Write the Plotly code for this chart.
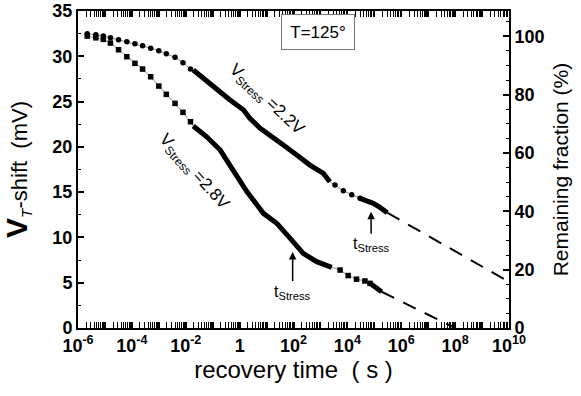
import math
import plotly.graph_objects as go

# ---------------- data ----------------
# recovery time (s) of the sparse early points (same for both curves)
t_early = [2.2e-6, 4.6e-6, 8.7e-6, 1.6e-5, 3.2e-5, 6.5e-5, 1.3e-4, 2.5e-4,
           5.0e-4, 1.0e-3, 1.9e-3, 4.0e-3, 7.9e-3, 1.5e-2]

# V_stress = 2.2 V
v22_early = [32.48, 32.38, 32.23, 32.04, 31.82, 31.60, 31.38, 31.16,
             30.90, 30.61, 30.28, 29.88, 29.29, 28.59]
t22_dense = [0.019, 0.045, 0.14, 0.44, 1.4, 2.4, 5.8, 13.5, 42, 132, 407, 1290, 2240]
v22_dense = [28.48, 27.56, 26.27, 25.17, 24.06, 23.15, 22.04, 21.30, 20.20,
             19.09, 17.99, 17.07, 16.15]
t22_late = [3470, 7080, 14500, 29500]
v22_late = [15.78, 15.15, 14.72, 14.32]
t22_dense2 = [29500, 52500, 91000, 162000, 302000]
v22_dense2 = [14.32, 14.05, 13.76, 13.32, 12.73]
t22_extra = [302000, 1e10]
v22_extra = [12.73, 5.1]

# V_stress = 2.8 V
v28_early = [32.23, 32.04, 31.87, 31.46, 30.72, 29.95, 29.22, 28.59,
             27.74, 26.71, 25.80, 24.80, 23.81, 22.77]
t28_dense = [0.019, 0.060, 0.19, 0.58, 1.8, 7.6, 24, 74, 229, 724, 2630]
v28_dense = [22.30, 21.11, 19.65, 17.44, 15.12, 12.66, 11.56, 9.93, 8.24, 7.32, 6.70]
t28_late = [5370, 10700, 21900, 44700, 69000]
v28_late = [6.40, 5.79, 5.39, 5.19, 4.93]
t28_dense2 = [69000, 112000, 186000]
v28_dense2 = [4.93, 4.50, 4.00]
t28_extra = [186000, 1e8]
v28_extra = [4.00, 0.0]

# stress times marked with arrows (s) and the curve value there (mV)
t_stress = [93, 76000]
v_stress_tip = [8.39, 12.84]

# axis ticks
x_major = [10.0 ** n for n in range(-6, 11)]
x_labels = ["10<sup>-6</sup>", "", "10<sup>-4</sup>", "", "10<sup>-2</sup>", "", "1", "",
            "10<sup>2</sup>", "", "10<sup>4</sup>", "", "10<sup>6</sup>", "",
            "10<sup>8</sup>", "", "10<sup>10</sup>"]
x_minor = [k * 10.0 ** n for n in range(-6, 10) for k in range(2, 10)]

FONT = "Liberation Sans, Arial, sans-serif"

fig = go.Figure()

def add_curve(t_e, v_e, t_d, v_d, t_l, v_l, t_d2, v_d2, t_x, v_x, symbol):
    # thin grey connecting line through all measured points
    fig.add_trace(go.Scatter(x=t_e + t_d + t_l + t_d2, y=v_e + v_d + v_l + v_d2,
                             mode="lines", line=dict(color="#8a8a8a", width=1),
                             showlegend=False, hoverinfo="skip"))
    # sparse markers
    fig.add_trace(go.Scatter(x=t_e + t_l, y=v_e + v_l, mode="markers",
                             marker=dict(symbol=symbol, size=5.5, color="black"),
                             showlegend=False))
    # dense measurement regions
    for tt, vv in ((t_d, v_d), (t_d2, v_d2)):
        fig.add_trace(go.Scatter(x=tt, y=vv, mode="lines",
                                 line=dict(color="black", width=5),
                                 showlegend=False))
    # extrapolation
    fig.add_trace(go.Scatter(x=t_x, y=v_x, mode="lines",
                             line=dict(color="black", width=2, dash="14px,10px"),
                             showlegend=False))

add_curve(t_early, v22_early, t22_dense, v22_dense, t22_late, v22_late,
          t22_dense2, v22_dense2, t22_extra, v22_extra, "circle")
add_curve(t_early, v28_early, t28_dense, v28_dense, t28_late, v28_late,
          t28_dense2, v28_dense2, t28_extra, v28_extra, "square")

# dummy trace for the right axis
fig.add_trace(go.Scatter(x=[1e-6], y=[0], yaxis="y2", mode="markers",
                         marker=dict(opacity=0), showlegend=False, hoverinfo="skip"))

annotations = [
    dict(x=0.557, y=0.934, xref="paper", yref="paper", text="T=125°",
         xanchor="center", yanchor="middle",
         showarrow=False, font=dict(family=FONT, size=17, color="black"),
         bordercolor="#777", borderwidth=1, width=70, height=32, bgcolor="white"),
    dict(x=0.98, y=25.2, xref="x", yref="y", text="V<sub>Stress</sub> =2.2V",
         xanchor="center", yanchor="middle",
         showarrow=False, textangle=43,
         font=dict(family=FONT, size=17, color="black")),
    dict(x=-1.73, y=17.2, xref="x", yref="y", text="V<sub>Stress</sub> =2.8V",
         xanchor="center", yanchor="middle",
         showarrow=False, textangle=48,
         font=dict(family=FONT, size=17, color="black")),
]
for ts, vt, ay in zip(t_stress, v_stress_tip, [40, 33]):
    annotations.append(dict(x=math.log10(ts), y=vt, xref="x", yref="y",
                            text="t<sub>Stress</sub>", showarrow=True,
                            arrowhead=2, arrowsize=1, arrowwidth=1.5,
                            arrowcolor="black", ax=0, ay=ay,
                            font=dict(family=FONT, size=16, color="black")))

fig.update_layout(
    width=581, height=396,
    margin=dict(l=78, r=72, t=11, b=68),
    paper_bgcolor="white", plot_bgcolor="white",
    font=dict(family=FONT, color="black"),
    annotations=annotations,
    xaxis=dict(type="log", range=[-6, 10], tickmode="array", tickvals=x_major,
               ticktext=x_labels, ticks="inside", ticklen=6, tickwidth=1.5,
               tickcolor="black", showline=True, linewidth=2, linecolor="black",
               mirror="allticks", showgrid=False, zeroline=False, automargin=False,
               tickfont=dict(family=FONT, size=18, weight="bold"),
               minor=dict(tickmode="array", tickvals=x_minor, ticks="inside",
                          ticklen=3, tickwidth=1, tickcolor="black"),
               title=dict(text="recovery time  ( s )",
                          font=dict(family=FONT, size=24), standoff=4)),
    yaxis=dict(range=[0, 35], dtick=5, ticks="inside", ticklen=6, tickwidth=1.5,
               tickcolor="black", showline=True, linewidth=2, linecolor="black",
               mirror=True, showgrid=False, zeroline=False, automargin=False,
               tickfont=dict(family=FONT, size=18, weight="bold"),
               minor=dict(dtick=2.5, ticks="inside", ticklen=3, tickwidth=1,
                          tickcolor="black"),
               title=dict(text="<span style='font-size:30px'><b>V</b></span><sub><i>T</i></sub>-shift  (mV)",
                          font=dict(family=FONT, size=22), standoff=20)),
    yaxis2=dict(overlaying="y", side="right", range=[0, 108.7], dtick=20,
                ticks="inside", ticklen=6, tickwidth=1.5, tickcolor="black",
                showline=True, linewidth=2, linecolor="black", showgrid=False,
                zeroline=False, automargin=False,
                tickfont=dict(family=FONT, size=18, weight="bold"),
                minor=dict(dtick=5, ticks="inside", ticklen=3, tickwidth=1,
                           tickcolor="black"),
                title=dict(text="Remaining fraction (%)",
                           font=dict(family=FONT, size=21), standoff=10)),
)

fig.write_html("out.html")
